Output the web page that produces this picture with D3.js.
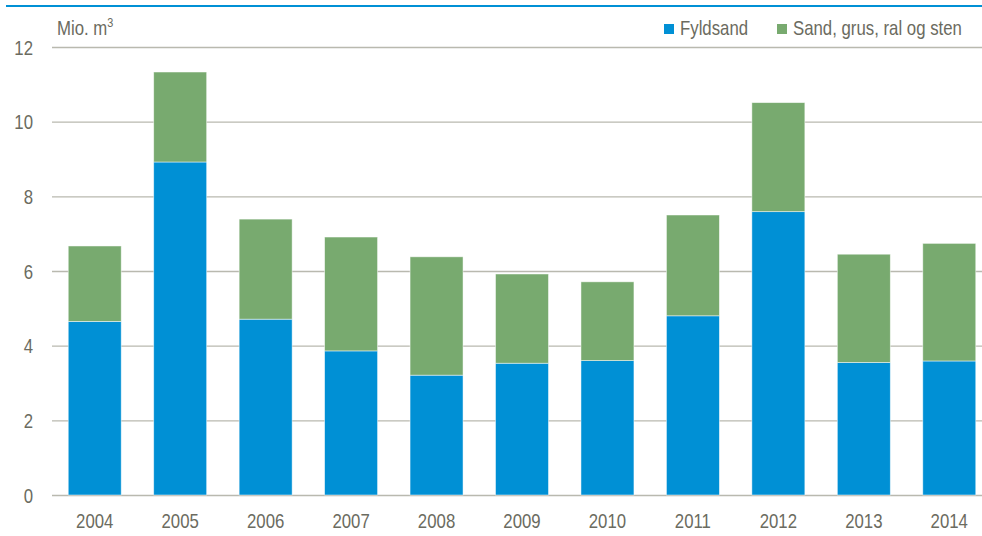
<!DOCTYPE html>
<html>
<head>
<meta charset="utf-8">
<script src="https://cdn.jsdelivr.net/npm/d3@7"></script>
<style>
body { margin: 0; background: #fff; }
svg { display: block; font-family: "Liberation Sans", Arial, sans-serif; }
</style>
</head>
<body>
<svg id="chart" width="982" height="536"></svg>
<script>
var years = ['2004','2005','2006','2007','2008','2009','2010','2011','2012','2013','2014'];
var fyldsand = [4.65, 8.92, 4.71, 3.86, 3.21, 3.53, 3.60, 4.80, 7.59, 3.55, 3.59];
var totals = [6.67, 11.33, 7.39, 6.91, 6.38, 5.92, 5.71, 7.50, 10.51, 6.45, 6.74];
var sandGrus = totals.map(function(t, i) { return +(t - fyldsand[i]).toFixed(2); });
var yTicks = [0, 2, 4, 6, 8, 10, 12];
var seriesNames = ['Fyldsand', 'Sand, grus, ral og sten'];
var colors = ['#0090d5', '#78aa6f'];
var textColor = '#6b6b60';
var squeeze = 'scale(0.84,1)';

var svg = d3.select('#chart');

// top rule
svg.append('rect').attr('x', 6).attr('y', 5).attr('width', 976).attr('height', 2).attr('fill', '#0090d5');

var x = d3.scaleBand().domain(years).range([52, 992]).paddingInner(0.38).paddingOuter(0.19);
var y = d3.scaleLinear().domain([0, 12]).range([495, 47]);

var grid = svg.append('g');
grid.selectAll('line').data(yTicks).enter().append('line')
	.attr('x1', 52).attr('x2', 982)
	.attr('y1', function(d) { return y(d) + 0.5; })
	.attr('y2', function(d) { return y(d) + 0.5; })
	.attr('stroke', '#b9b9af').attr('stroke-width', 1.3);

var yAxis = d3.axisLeft(y).tickValues(yTicks).tickSize(0).tickPadding(0);
var ya = svg.append('g').attr('transform', 'translate(33,0)').call(yAxis);
ya.select('.domain').remove();
ya.selectAll('text').attr('font-size', 20).attr('fill', textColor).attr('font-family', 'Liberation Sans, Arial, sans-serif')
	.attr('dy', '0.36em').attr('transform', squeeze);

var xAxis = d3.axisBottom(x).tickSize(0).tickPadding(0);
var xa = svg.append('g').attr('transform', 'translate(0,528)').call(xAxis);
xa.select('.domain').remove();
xa.selectAll('text').attr('font-size', 20).attr('fill', textColor).attr('font-family', 'Liberation Sans, Arial, sans-serif')
	.attr('dy', 0).attr('transform', squeeze);

var stackData = years.map(function(yr, i) { return { year: yr, a: fyldsand[i], b: sandGrus[i] }; });
var stack = d3.stack().keys(['a', 'b'])(stackData);

svg.append('g').selectAll('g').data(stack).enter().append('g')
	.attr('fill', function(d, i) { return colors[i]; })
	.selectAll('rect').data(function(d) { return d; }).enter().append('rect')
	.attr('x', function(d) { return x(d.data.year); })
	.attr('width', x.bandwidth())
	.attr('y', function(d) { return y(d[1]); })
	.attr('height', function(d) { return y(d[0]) - y(d[1]); })
	.attr('stroke', 'rgba(255,255,255,0.6)').attr('stroke-width', 0.8);

// unit label
var unit = svg.append('g').attr('transform', 'translate(57,35) ' + squeeze)
	.append('text').attr('font-size', 20).attr('fill', textColor);
unit.append('tspan').text('Mio. m');
unit.append('tspan').attr('font-size', 13).attr('dy', -8).text('3');

// legend
var legendX = [664, 777];
var lg = svg.append('g');
seriesNames.forEach(function(name, i) {
	lg.append('rect').attr('x', legendX[i]).attr('y', 24).attr('width', 10).attr('height', 10).attr('fill', colors[i]);
	lg.append('g').attr('transform', 'translate(' + (legendX[i] + 16) + ',35) ' + squeeze)
		.append('text').attr('font-size', 20).attr('fill', textColor).text(name);
});
</script>
</body>
</html>
